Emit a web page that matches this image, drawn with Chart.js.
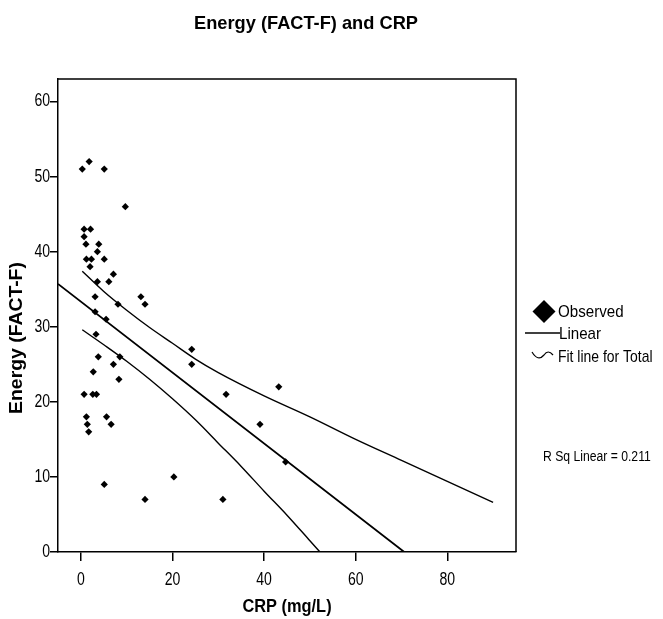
<!DOCTYPE html>
<html lang="en">
<head>
    <meta charset="UTF-8">
    <title>Energy (FACT-F) and CRP</title>
    <script src="https://cdn.jsdelivr.net/npm/chart.js"></script>
    <style>
        html, body { margin: 0; padding: 0; background: #fff; }
        #wrap { width: 663px; height: 619px; position: relative; }
    </style>
</head>
<body>
<div id="wrap"><canvas id="scatterChart"></canvas></div>
<script>
    var crpVals = [0.3, 1.8, 5.1, 9.7, 0.7, 2.1, 0.7, 1.1, 3.9, 3.6, 1.2, 2.3, 5.1, 2.0, 7.1, 6.1,
        3.6, 3.1, 13.1, 14.0, 8.1, 3.1, 5.5, 3.3, 8.5, 3.8, 7.1, 2.7, 8.3, 0.7, 2.6, 3.4,
        1.2, 5.6, 1.4, 6.6, 1.7, 24.2, 24.2, 31.7, 43.2, 39.1, 44.7, 20.3, 5.1, 14.0, 31.0];
    var energyVals = [51, 52, 51, 46, 43, 43, 42, 41, 41, 40, 39, 39, 39, 38, 37, 36,
        36, 34, 34, 33, 33, 32, 31, 29, 26, 26, 25, 24, 23, 21, 21, 21,
        18, 18, 17, 17, 16, 27, 25, 21, 22, 17, 12, 10, 9, 7, 7];

    // linear fit and its confidence band
    var fitX = [-5, 70.6];
    var fitY = [35.7, 0];
    var upperX = [0.3, 5, 10, 15, 20, 25, 30, 40, 50, 60, 70, 80, 90];
    var upperY = [37.4, 34.7, 32.2, 29.9, 27.8, 25.7, 23.9, 20.8, 18.0, 15.0, 12.2, 9.4, 6.6];
    var lowerX = [0.3, 5, 10, 15, 20, 25, 30, 35, 40, 45, 50, 52.2];
    var lowerY = [29.6, 27.6, 25.4, 23.0, 20.4, 17.6, 14.5, 11.4, 8.1, 4.9, 1.5, 0];

    var xTicks = [0, 20, 40, 60, 80];
    var yTicks = [0, 10, 20, 30, 40, 50, 60];
    var rSqText = "R Sq Linear = 0.211";

    var sans = "'Liberation Sans', Arial, sans-serif";

    function toPoints(xs, ys) {
        var pts = [];
        for (var i = 0; i < xs.length; i++) {
            pts.push({ x: xs[i], y: ys[i] });
        }
        return pts;
    }

    // the scanned text is narrower than Liberation Sans, so squeeze it sideways
    function squeezeText(ctx, text, x, y, font, align, sx) {
        ctx.save();
        ctx.font = font;
        ctx.textAlign = align;
        ctx.textBaseline = "middle";
        ctx.translate(x, y);
        ctx.scale(sx, 1);
        ctx.fillText(text, 0, 0);
        ctx.restore();
    }

    var extras = {
        id: "extras",
        afterDraw: function(chart) {
            var ctx = chart.ctx;
            var a = chart.chartArea;
            var xs = chart.scales.x;
            var ys = chart.scales.y;
            ctx.save();
            ctx.strokeStyle = "#000";
            ctx.fillStyle = "#000";
            ctx.lineWidth = 1.5;
            // top and right frame
            ctx.beginPath();
            ctx.moveTo(a.left, a.top);
            ctx.lineTo(a.right, a.top);
            ctx.lineTo(a.right, a.bottom);
            ctx.stroke();

            // tick labels
            xTicks.forEach(function(v) {
                squeezeText(ctx, String(v), xs.getPixelForValue(v), 580, "18px " + sans, "center", 0.78);
            });
            yTicks.forEach(function(v) {
                squeezeText(ctx, String(v), 50, ys.getPixelForValue(v), "18px " + sans, "right", 0.78);
            });

            squeezeText(ctx, "Energy (FACT-F) and CRP", 306, 24, "bold 19px " + sans, "center", 0.96);
            squeezeText(ctx, "CRP (mg/L)", 287, 607, "bold 18px " + sans, "center", 0.91);

            ctx.save();
            ctx.translate(17, 338);
            ctx.rotate(-Math.PI / 2);
            squeezeText(ctx, "Energy (FACT-F)", 0, 0, "bold 19px " + sans, "center", 1.02);
            ctx.restore();

            // legend
            ctx.beginPath();
            ctx.moveTo(544, 300);
            ctx.lineTo(555.5, 311.5);
            ctx.lineTo(544, 323);
            ctx.lineTo(532.5, 311.5);
            ctx.closePath();
            ctx.fill();

            ctx.beginPath();
            ctx.moveTo(525, 333);
            ctx.lineTo(560, 333);
            ctx.stroke();

            ctx.lineWidth = 1.2;
            ctx.beginPath();
            ctx.moveTo(532, 352);
            ctx.quadraticCurveTo(538, 362, 544, 355);
            ctx.quadraticCurveTo(548, 349, 553, 355);
            ctx.stroke();

            squeezeText(ctx, "Observed", 558, 312, "17px " + sans, "left", 0.89);
            squeezeText(ctx, "Linear", 559, 334, "17px " + sans, "left", 0.89);
            squeezeText(ctx, "Fit line for Total", 558, 357, "17px " + sans, "left", 0.82);
            squeezeText(ctx, rSqText, 543, 457, "14px " + sans, "left", 0.87);
            ctx.restore();
        }
    };

    var lineStyle = {
        type: "line",
        borderColor: "#000",
        borderWidth: 1.4,
        pointRadius: 0,
        fill: false,
        cubicInterpolationMode: "monotone"
    };

    new Chart(document.getElementById("scatterChart"), {
        type: "scatter",
        data: {
            datasets: [
                {
                    label: "Observed",
                    data: toPoints(crpVals, energyVals),
                    pointStyle: "rectRot",
                    pointRadius: 3.6,
                    backgroundColor: "#000",
                    borderColor: "#000",
                    borderWidth: 0
                },
                Object.assign({}, lineStyle, { label: "Linear", data: toPoints(fitX, fitY), borderWidth: 1.8 }),
                Object.assign({}, lineStyle, { label: "Upper", data: toPoints(upperX, upperY) }),
                Object.assign({}, lineStyle, { label: "Lower", data: toPoints(lowerX, lowerY) })
            ]
        },
        options: {
            responsive: true,
            maintainAspectRatio: false,
            animation: false,
            layout: { padding: { top: 79, right: 147, left: 0, bottom: 0 } },
            plugins: {
                legend: { display: false },
                tooltip: { enabled: false }
            },
            scales: {
                x: {
                    type: "linear",
                    min: -5,
                    max: 95,
                    afterBuildTicks: function(scale) {
                        scale.ticks = xTicks.map(function(v) { return { value: v }; });
                    },
                    afterFit: function(scale) { scale.height = 67; },
                    grid: { drawOnChartArea: false, drawTicks: true, tickLength: 9, color: "#000", lineWidth: 1.5 },
                    border: { display: true, color: "#000", width: 1.5 },
                    ticks: { display: false }
                },
                y: {
                    min: 0,
                    max: 63,
                    afterBuildTicks: function(scale) {
                        scale.ticks = yTicks.map(function(v) { return { value: v }; });
                    },
                    afterFit: function(scale) { scale.width = 58; },
                    grid: { drawOnChartArea: false, drawTicks: true, tickLength: 8, color: "#000", lineWidth: 1.5 },
                    border: { display: true, color: "#000", width: 1.5 },
                    ticks: { display: false }
                }
            }
        },
        plugins: [extras]
    });
</script>
</body>
</html>
